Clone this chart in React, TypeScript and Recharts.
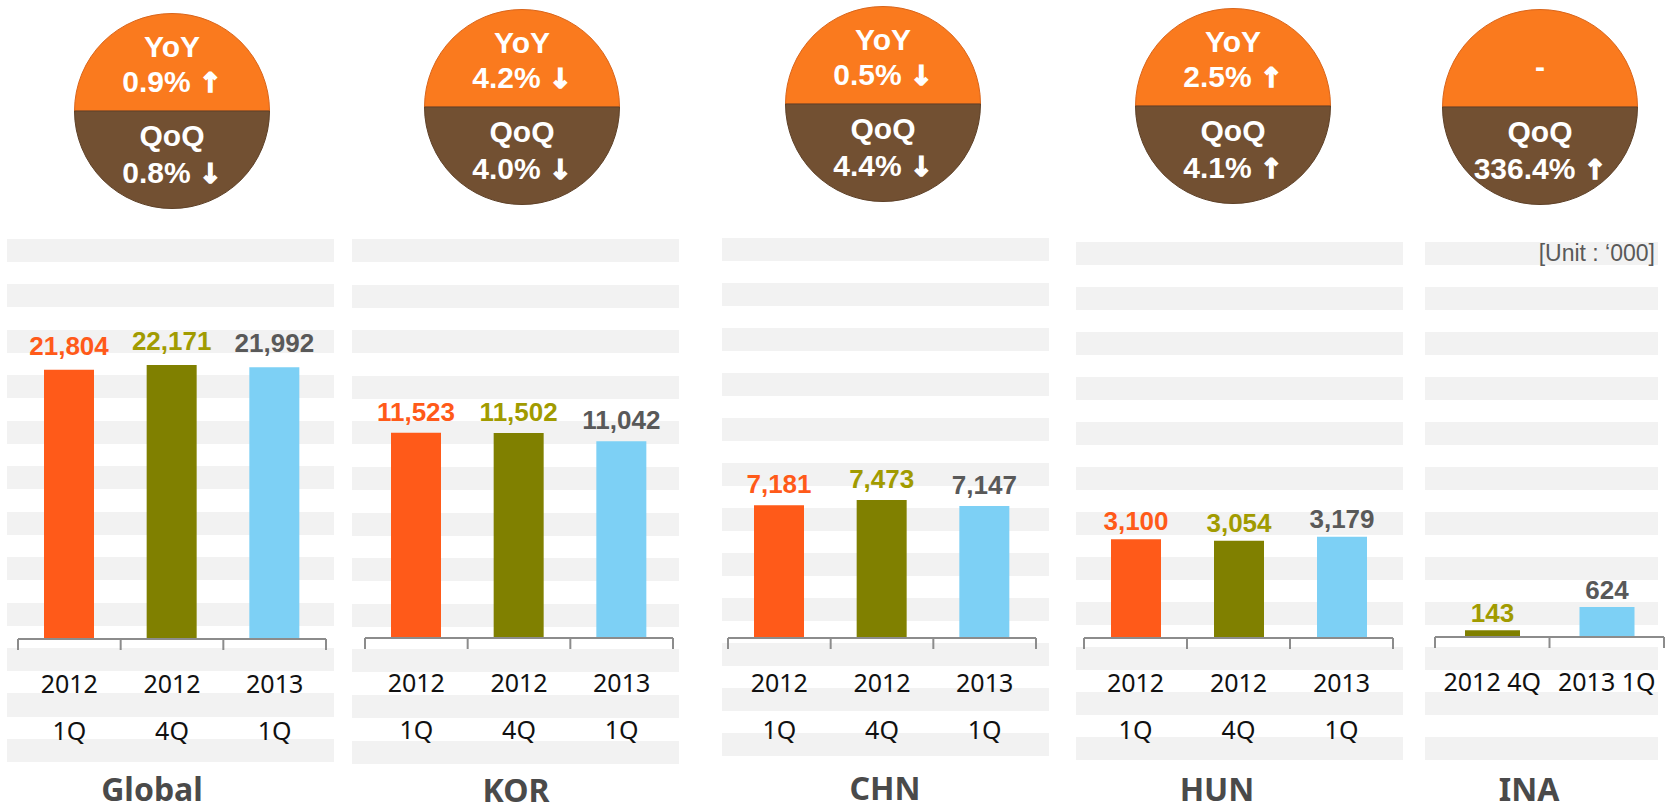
import { Bar, BarChart, Cell, LabelList, Pie, PieChart, XAxis, YAxis } from "recharts";

// unit: thousand
const quarters = ["2012\n1Q", "2012\n4Q", "2013\n1Q"];
const inaQuarters = ["2012 4Q", "2013 1Q"];
const globalUnits = [21804, 22171, 21992];
const korUnits = [11523, 11502, 11042];
const chnUnits = [7181, 7473, 7147];
const hunUnits = [3100, 3054, 3179];
const inaUnits = [143, 624];
const regionNames = ["Global", "KOR", "CHN", "HUN", "INA"];
const yoyChange = ["0.9% ↑", "4.2% ↓", "0.5% ↓", "2.5% ↑", "-"];
const qoqChange = ["0.8% ↓", "4.0% ↓", "4.4% ↓", "4.1% ↑", "336.4% ↑"];
const badgeHalves = [
  { name: "YoY", value: 1 },
  { name: "QoQ", value: 1 },
];

const ORANGE = "#FF5A19";
const OLIVE = "#808000";
const SKY = "#7DD0F5";
const ORANGE_TXT = "#FF5A19";
const OLIVE_TXT = "#A19B00";
const GRAY_TXT = "#595959";
const STRIPE = "#F2F2F2";
const AXIS = "#8C8C8C";

const PLOT_H = 399;
const AXIS_H = 130;

type Panel = {
  name: string;
  cats: string[];
  values: number[];
  colors: string[];
  labelColors: string[];
  yMax: number;
  axisY: number;
  plotLeft: number;
  plotWidth: number;
  barSize: number;
  labelGap: number;
  stripe: { left: number; width: number; top: number; period: number };
  badge: { cx: number; cy: number; yoy: string; qoq: string };
  title: { x: number; y: number };
};

const three = [ORANGE, OLIVE, SKY];
const threeTxt = [ORANGE_TXT, OLIVE_TXT, GRAY_TXT];

const panels: Panel[] = [
  {
    name: regionNames[0], cats: quarters, values: globalUnits, colors: three, labelColors: threeTxt,
    yMax: 32300, axisY: 639, plotLeft: 18, plotWidth: 308, barSize: 50, labelGap: 15,
    stripe: { left: 7, width: 327, top: 239, period: 45.45 },
    badge: { cx: 172, cy: 111, yoy: yoyChange[0], qoq: qoqChange[0] },
    title: { x: 152, y: 789 },
  },
  {
    name: regionNames[1], cats: quarters, values: korUnits, colors: three, labelColors: threeTxt,
    yMax: 22400, axisY: 638, plotLeft: 365, plotWidth: 308, barSize: 50, labelGap: 12,
    stripe: { left: 352, width: 327, top: 239, period: 45.6 },
    badge: { cx: 522, cy: 107, yoy: yoyChange[1], qoq: qoqChange[1] },
    title: { x: 516, y: 790 },
  },
  {
    name: regionNames[2], cats: quarters, values: chnUnits, colors: three, labelColors: threeTxt,
    yMax: 21600, axisY: 638, plotLeft: 728, plotWidth: 308, barSize: 50, labelGap: 12,
    stripe: { left: 722, width: 327, top: 238, period: 45 },
    badge: { cx: 883, cy: 104, yoy: yoyChange[2], qoq: qoqChange[2] },
    title: { x: 885, y: 788 },
  },
  {
    name: regionNames[3], cats: quarters, values: hunUnits, colors: three, labelColors: threeTxt,
    yMax: 12540, axisY: 638, plotLeft: 1084, plotWidth: 309, barSize: 50, labelGap: 9,
    stripe: { left: 1076, width: 327, top: 242, period: 45 },
    badge: { cx: 1233, cy: 106, yoy: yoyChange[3], qoq: qoqChange[3] },
    title: { x: 1217, y: 789 },
  },
  {
    name: regionNames[4], cats: inaQuarters, values: inaUnits, colors: [OLIVE, SKY], labelColors: [OLIVE_TXT, GRAY_TXT],
    yMax: 8300, axisY: 637, plotLeft: 1435, plotWidth: 229, barSize: 55, labelGap: 8,
    stripe: { left: 1425, width: 233, top: 242, period: 45 },
    badge: { cx: 1540, cy: 107, yoy: yoyChange[4], qoq: qoqChange[4] },
    title: { x: 1529, y: 789 },
  },
];

const fmt = (v: number) => Number(v).toLocaleString("en-US");

function Stripes({ s }: { s: Panel["stripe"] }) {
  return (
    <div
      style={{
        position: "absolute",
        left: s.left,
        top: s.top,
        width: s.width,
        height: s.period * 11 + 23,
        background: `repeating-linear-gradient(to bottom, ${STRIPE} 0px, ${STRIPE} 23px, transparent 23px, transparent ${s.period}px)`,
      }}
    />
  );
}

// arrows drawn heavier so they read like the original
function withArrow(text: string) {
  const m = text.match(/^(.*?)\s*([↑↓])$/);
  if (!m) return text;
  return (
    <>
      {m[1]}{" "}
      <span
        style={{
          fontFamily: "'DejaVu Sans', sans-serif",
          fontWeight: 700,
          fontSize: 27,
          WebkitTextStroke: "1.6px #fff",
        }}
      >
        {m[2]}
      </span>
    </>
  );
}

function Badge({ b }: { b: Panel["badge"] }) {
  const line = (text: string, dy: number) => (
    <div
      style={{
        position: "absolute",
        left: 0,
        width: 200,
        top: 100 + dy - 18,
        height: 36,
        lineHeight: "36px",
        textAlign: "center",
        color: "#fff",
        fontFamily: "'Liberation Sans', Arial, sans-serif",
        fontWeight: 700,
        fontSize: 30,
        whiteSpace: "nowrap",
      }}
    >
      {withArrow(text)}
    </div>
  );
  const noYoy = b.yoy === "-";
  return (
    <div style={{ position: "absolute", left: b.cx - 100, top: b.cy - 100, width: 200, height: 200 }}>
      <PieChart width={200} height={200} margin={{ top: 0, right: 0, bottom: 0, left: 0 }}>
        <Pie
          data={badgeHalves}
          dataKey="value"
          cx={100}
          cy={100}
          innerRadius={0}
          outerRadius={97.5}
          startAngle={0}
          endAngle={360}
          isAnimationActive={false}
          label={false}
          labelLine={false}
        >
          <Cell fill="#FA7A1E" stroke="#D9651B" strokeWidth={1} />
          <Cell fill="#725032" stroke="#5E4128" strokeWidth={1} />
        </Pie>
      </PieChart>
      {noYoy ? line("-", -40) : line("YoY", -64)}
      {noYoy ? null : line(b.yoy, -29)}
      {line("QoQ", 25)}
      {line(b.qoq, 62)}
    </div>
  );
}

function PanelChart({ p }: { p: Panel }) {
  const data = p.cats.map((c, i) => ({ quarter: c, units: p.values[i] }));
  const bw = p.plotWidth / p.cats.length;
  const pad = 4;

  const renderTick = (props: any) => {
    const { x, y, payload, index } = props;
    const parts = String(payload.value).split("\n");
    const last = index === p.cats.length - 1;
    return (
      <g>
        <line x1={x - bw / 2} x2={x - bw / 2} y1={y} y2={y + 11} stroke={AXIS} strokeWidth={2} />
        {last && <line x1={x + bw / 2} x2={x + bw / 2} y1={y} y2={y + 11} stroke={AXIS} strokeWidth={2} />}
        <text
          x={x}
          y={y}
          textAnchor="middle"
          fill="#111"
          fontSize={25}
          fontFamily="'Noto Sans', sans-serif"
        >
          <tspan x={x} dy={54}>{parts[0]}</tspan>
          {parts[1] && <tspan x={x} dy={47}>{parts[1]}</tspan>}
        </text>
      </g>
    );
  };

  const renderLabel = (props: any) => {
    const { x, y, width, value, index } = props;
    return (
      <text
        x={Number(x) + Number(width) / 2}
        y={Number(y) - p.labelGap}
        textAnchor="middle"
        fill={p.labelColors[index]}
        fontSize={26}
        fontWeight={700}
        fontFamily="'Liberation Sans', Arial, sans-serif"
      >
        {fmt(value)}
      </text>
    );
  };

  return (
    <div
      style={{
        position: "absolute",
        left: p.plotLeft - pad,
        top: p.axisY - PLOT_H,
        width: p.plotWidth + pad * 2,
        height: PLOT_H + AXIS_H,
      }}
    >
      <BarChart
        width={p.plotWidth + pad * 2}
        height={PLOT_H + AXIS_H}
        data={data}
        margin={{ top: 0, right: pad, bottom: 0, left: pad }}
      >
        <XAxis
          dataKey="quarter"
          height={AXIS_H}
          interval={0}
          tickSize={0}
          tickMargin={0}
          tickLine={false}
          axisLine={{ stroke: AXIS, strokeWidth: 2 }}
          tick={renderTick}
        />
        <YAxis hide domain={[0, p.yMax]} />
        <Bar dataKey="units" barSize={p.barSize} isAnimationActive={false}>
          {data.map((d, i) => (
            <Cell key={d.quarter} fill={p.colors[i]} />
          ))}
          <LabelList dataKey="units" content={renderLabel} />
        </Bar>
      </BarChart>
    </div>
  );
}

export default function App() {
  return (
    <div
      style={{
        position: "absolute",
        left: 0,
        top: 0,
        width: 1675,
        height: 810,
        background: "#fff",
      }}
    >
      {panels.map((p) => (
        <Stripes key={p.name + "s"} s={p.stripe} />
      ))}
      {panels.map((p) => (
        <PanelChart key={p.name + "c"} p={p} />
      ))}
      {panels.map((p) => (
        <Badge key={p.name + "b"} b={p.badge} />
      ))}
      {panels.map((p) => (
        <div
          key={p.name + "t"}
          style={{
            position: "absolute",
            left: p.title.x - 100,
            top: p.title.y - 15,
            width: 200,
            height: 30,
            lineHeight: "30px",
            textAlign: "center",
            fontFamily: "'Noto Sans', sans-serif",
            fontWeight: 700,
            fontSize: 32,
            color: "#4A4A4A",
          }}
        >
          {p.name}
        </div>
      ))}
      <div
        style={{
          position: "absolute",
          right: 1675 - 1655,
          top: 253 - 15,
          height: 30,
          lineHeight: "30px",
          fontFamily: "'Liberation Sans', Arial, sans-serif",
          fontSize: 23,
          color: "#595959",
          whiteSpace: "nowrap",
        }}
      >
        [Unit : ‘000]
      </div>
    </div>
  );
}
